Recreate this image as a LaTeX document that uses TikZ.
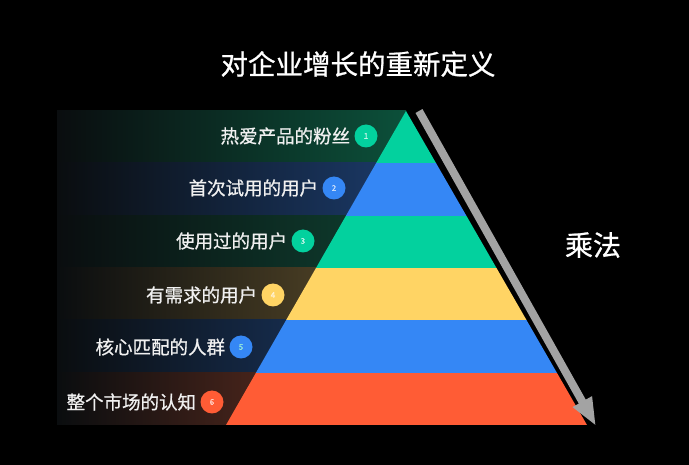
\documentclass[tikz,border=0pt]{standalone}
\usepackage{fontspec}
\setmainfont{Noto Sans CJK SC}[FakeBold=0.8]
\usetikzlibrary{arrows.meta,positioning}
\definecolor{pyrgreen}{RGB}{3,209,158}
\definecolor{pyrblue}{RGB}{53,135,245}
\definecolor{pyryellow}{RGB}{255,212,100}
\definecolor{pyrred}{RGB}{255,92,53}
\definecolor{bgdark}{RGB}{10,13,15}
\definecolor{shgreen}{RGB}{12,80,58}
\definecolor{shblue}{RGB}{27,58,105}
\definecolor{shteal}{RGB}{14,64,48}
\definecolor{shyellow}{RGB}{92,76,42}
\definecolor{shred}{RGB}{115,52,35}
\definecolor{arrowgray}{RGB}{163,163,163}
\tikzset{numdot/.style={circle, minimum size=23pt, inner sep=0pt, font=\fontsize{8}{8}\selectfont},
  bandlabel/.style={text=white!94!black, inner sep=0pt, font=\fontsize{18.5}{20}\selectfont}}

\begin{document}
\begin{tikzpicture}[x=1pt,y=-1pt]
		\fill[black] (0,0) rectangle (689,465);
		\useasboundingbox (0,0) rectangle (689,465);
		% dark bands behind the labels
		\fill[left color=bgdark, right color=shgreen] (57,111) rectangle (406,163);
		\fill[left color=bgdark, right color=shblue] (57,163) rectangle (406,216);
		\fill[left color=bgdark, right color=shteal] (57,216) rectangle (406,268);
		\fill[left color=bgdark, right color=shyellow] (57,268) rectangle (406,320);
		\fill[left color=bgdark, right color=shblue] (57,320) rectangle (406,373);
		\fill[left color=bgdark, right color=shred] (57,373) rectangle (406,425);
		% pyramid
		\begin{scope}
		\clip (406,111) -- (587,425) -- (226,425) -- cycle;
		\fill[pyrgreen] (220,111) rectangle (600,163);
		\fill[pyrblue] (220,163) rectangle (600,216);
		\fill[pyrgreen] (220,216) rectangle (600,268);
		\fill[pyryellow] (220,268) rectangle (600,320);
		\fill[pyrblue] (220,320) rectangle (600,373);
		\fill[pyrred] (220,373) rectangle (600,425);
		\end{scope}
		% numbered dots and labels
		\node[numdot, fill=pyrgreen, text=white!75!pyrgreen] (n1) at (366,136) {1};
		\node[numdot, fill=pyrblue, text=white!75!pyrblue] (n2) at (334,188) {2};
		\node[numdot, fill=pyrgreen, text=white!75!pyrgreen] (n3) at (303,241) {3};
		\node[numdot, fill=pyryellow, text=white!75!pyryellow] (n4) at (273,295) {4};
		\node[numdot, fill=pyrblue, text=white!60!pyrgreen] (n5) at (241,347) {5};
		\node[numdot, fill=pyrred, text=white!75!pyrred] (n6) at (212,402) {6};
		\node[bandlabel, left=4pt of n1] (t1) {热爱产品的粉丝};
		\node[bandlabel, left=4pt of n2] (t2) {首次试用的用户};
		\node[bandlabel, left=4pt of n3] (t3) {使用过的用户};
		\node[bandlabel, left=4pt of n4] (t4) {有需求的用户};
		\node[bandlabel, left=4pt of n5] (t5) {核心匹配的人群};
		\node[bandlabel, left=4pt of n6] (t6) {整个市场的认知};
		% title and arrow
		\node[text=white, font=\fontsize{27.5}{30}\selectfont] (title) at (358,64) {对企业增长的重新定义};
		\coordinate (arrtop) at (419,111);
		\coordinate (arrtip) at (596,426);
		\draw[arrowgray, line width=8pt, -{Triangle[width=20pt,length=28pt]}] (arrtop) -- (arrtip);
		\node[text=white, font=\fontsize{28}{30}\selectfont] (mult) at (593,245) {乘法};
		\end{tikzpicture}
\end{document}
